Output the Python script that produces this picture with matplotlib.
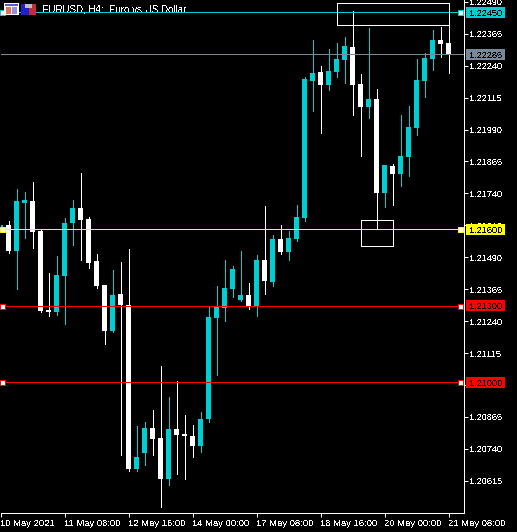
"""EURUSD H4 candlestick chart on black, MetaTrader look."""
import matplotlib

matplotlib.use("Agg")
import matplotlib.pyplot as plt
from matplotlib.patches import Rectangle
from matplotlib.transforms import IdentityTransform

W, H = 517, 532
FONT = ["Liberation Sans", "DejaVu Sans"]
CYAN = "#00CED1"

opens = [1.21588, 1.21615, 1.21513, 1.21701, 1.21709, 1.21592, 1.21282, 1.21274, 1.21415, 1.21623,
         1.21682, 1.21639, 1.21474, 1.21380, 1.21200, 1.21345, 1.21302, 1.20660, 1.20723, 1.20820,
         1.20781, 1.20621, 1.20817, 1.20797, 1.20789, 1.20750, 1.20856, 1.21251, 1.21290, 1.21365,
         1.21322, 1.21341, 1.21294, 1.21478, 1.21392, 1.21560, 1.21509, 1.21560, 1.21643, 1.22179,
         1.22214, 1.22163, 1.22214, 1.22261, 1.22312, 1.22167, 1.22077, 1.22108, 1.21740, 1.21846,
         1.21815, 1.21881, 1.21995, 1.22179, 1.22265, 1.22339, 1.22328]
highs = [1.21615, 1.21631, 1.21756, 1.21744, 1.21783, 1.21596, 1.21427, 1.21494, 1.21643, 1.21713,
         1.21819, 1.21646, 1.21502, 1.21380, 1.21439, 1.21470, 1.21521, 1.20828, 1.20844, 1.20891,
         1.21063, 1.20942, 1.21004, 1.20871, 1.20832, 1.20883, 1.21294, 1.21376, 1.21478, 1.21455,
         1.21513, 1.21388, 1.21498, 1.21689, 1.21576, 1.21615, 1.21592, 1.21693, 1.22195, 1.22339,
         1.22238, 1.22304, 1.22328, 1.22351, 1.22453, 1.22206, 1.22386, 1.22148, 1.21850, 1.21854,
         1.22046, 1.22081, 1.22265, 1.22288, 1.22379, 1.22390, 1.22394]
lows = [1.21588, 1.21507, 1.21365, 1.21564, 1.21525, 1.21276, 1.21259, 1.21263, 1.21228, 1.21537,
        1.21478, 1.21447, 1.21368, 1.21149, 1.21196, 1.20715, 1.20652, 1.20652, 1.20676, 1.20715,
        1.20511, 1.20597, 1.20640, 1.20621, 1.20707, 1.20726, 1.20844, 1.21028, 1.21239, 1.21333,
        1.21318, 1.21286, 1.21259, 1.21345, 1.21376, 1.21502, 1.21478, 1.21552, 1.21631, 1.22061,
        1.21975, 1.22144, 1.22195, 1.22171, 1.22046, 1.21885, 1.22034, 1.21599, 1.21686, 1.21693,
        1.21768, 1.21807, 1.21968, 1.22116, 1.22222, 1.22273, 1.22210]
closes = [1.21615, 1.21513, 1.21709, 1.21713, 1.21588, 1.21278, 1.21274, 1.21419, 1.21623, 1.21682,
          1.21635, 1.21466, 1.21376, 1.21200, 1.21341, 1.21302, 1.20660, 1.20707, 1.20820, 1.20777,
          1.20621, 1.20817, 1.20793, 1.20789, 1.20750, 1.20856, 1.21255, 1.21294, 1.21368, 1.21443,
          1.21341, 1.21294, 1.21478, 1.21396, 1.21560, 1.21509, 1.21564, 1.21646, 1.22187, 1.22210,
          1.22163, 1.22218, 1.22265, 1.22316, 1.22163, 1.22077, 1.22108, 1.21740, 1.21850, 1.21815,
          1.21885, 1.21999, 1.22183, 1.22269, 1.22339, 1.22324, 1.22281]

price_ticks = [1.22490, 1.22365, 1.22240, 1.22115, 1.21990, 1.21865, 1.21740, 1.21615,
               1.21490, 1.21365, 1.21240, 1.21115, 1.20990, 1.20865, 1.20740, 1.20615]
# 1.20990 sits fully behind the 1.21000 box in the reference
price_labels = ["" if p == 1.20990 else f"{p:.5f}" for p in price_ticks]
time_ticks = [0, 8, 16, 24, 32, 40, 48, 56]
time_labels = ["10 May 2021", "11 May 08:00", "12 May 16:00", "14 May 00:00",
               "17 May 08:00", "18 May 16:00", "20 May 00:00", "21 May 08:00"]

levels = [1.22450, 1.22285, 1.21600, 1.21300, 1.21000]
level_colors = [CYAN, "#778899", "#FFFF00", "#FF0000", "#FF0000"]
level_handles = [True, False, True, True, True]

# (first bar, last bar, top price, bottom price)
zones = [(42, 56, 1.22487, 1.22398), (45, 49, 1.21637, 1.21534)]

plt.rcParams["font.family"] = FONT
plt.rcParams["text.antialiased"] = False

fig = plt.figure(figsize=(W / 100, H / 100), dpi=100, facecolor="black")
ax = fig.add_axes([0.5 / W, 19.5 / H, 463 / W, 512.5 / H], facecolor="black")
ax.set_xlim(0, 463 / 8)
ax.set_ylim(1.20491, 1.22497)

for i, (o, h, l, c) in enumerate(zip(opens, highs, lows, closes)):
    color = CYAN if c >= o else "white"
    ax.vlines(i, l, h, color=color, lw=0.72, antialiased=False, zorder=2)
    ax.bar(i, abs(c - o), bottom=min(o, c), width=5 / 8, color=color, lw=0, antialiased=False, zorder=2)

ax.text(41.5, H - 13, "EURUSD, H4:  Euro vs US Dollar", color="white", fontsize=7, va="baseline",
        transform=IdentityTransform(), zorder=1)

for level, color, handle in zip(levels, level_colors, level_handles):
    ax.axhline(level, color=color, lw=0.72, antialiased=False, zorder=3)
    if handle:
        ax.plot([0.2, 57.4], [level, level], ls="", marker="s", ms=3.6,
                mfc="white", mec=color, mew=0.72, clip_on=False, antialiased=False, zorder=5)

for first, last, top, bottom in zones:
    ax.add_patch(Rectangle((first, bottom), last - first, top - bottom, fill=False, ec="white",
                           lw=0.72, antialiased=False, zorder=4))

for name, spine in ax.spines.items():
    spine.set_visible(name in ("right", "bottom"))
    spine.set_color("white")
    spine.set_linewidth(0.72)

ax.yaxis.tick_right()
ax.set_yticks(price_ticks, price_labels)
ax.set_xticks(time_ticks, time_labels, ha="left")
ax.tick_params(axis="y", colors="white", length=2.9, width=0.72, pad=1.2, labelsize=6.6)
ax.tick_params(axis="x", colors="white", length=2.9, width=0.72, pad=2, labelsize=6.8)


def px_rect(x, y, w, h, color):
    """Rectangle in image pixels, y measured from the top."""
    fig.add_artist(Rectangle((x, H - y - h), w, h, color=color, lw=0, antialiased=False,
                             transform=IdentityTransform(), zorder=2))


# price boxes on the axis
fig.canvas.draw()
for level, color in zip(levels, level_colors):
    y_px = ax.transData.transform((0, level))[1]
    px_rect(466, H - y_px - 5.5, 39, 11, color)
    fig.text(469 / W, y_px / H, f"{level:.5f}", color="black", fontsize=6.6, va="center_baseline", zorder=3)

# toolbar icons
px_rect(4, 3, 15, 12, "white")
px_rect(5, 4, 13, 2, "#5A5AD0")
px_rect(6, 7, 5, 7, "#E07060")
px_rect(12, 7, 5, 7, "#9090E0")
px_rect(21, 4, 8, 11, "#2020D0")
px_rect(29, 4, 7, 11, "#C03030")
px_rect(25, 4, 7, 4, "#C0C0C0")

fig.savefig("out.png", dpi=100, facecolor="black")
